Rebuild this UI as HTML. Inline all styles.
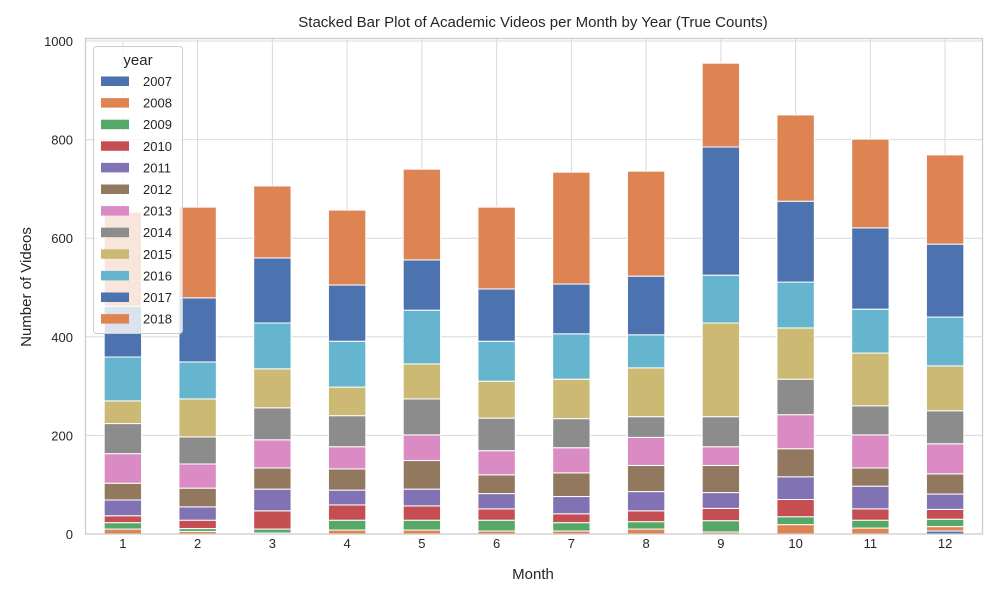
<!DOCTYPE html>
<html><head><meta charset="utf-8">
<style>
html,body{margin:0;padding:0;background:#fff;}
svg text{font-family:"Liberation Sans",Arial,sans-serif;fill:#262626;}
</style></head>
<body>
<svg id="chart" width="1000" height="600" xmlns="http://www.w3.org/2000/svg">
<rect x="0" y="0" width="1000" height="600" fill="#fff"/>
<text x="533" y="27" font-size="15" text-anchor="middle">Stacked Bar Plot of Academic Videos per Month by Year (True Counts)</text>
<text x="533" y="579" font-size="15" text-anchor="middle">Month</text>
<text x="31" y="287" font-size="15" text-anchor="middle" transform="rotate(-90 31 287)">Number of Videos</text>
<g id="grid"></g><g id="bars"></g><g id="ticks"></g>
<rect x="85.5" y="38.5" width="897" height="495.5" fill="none" stroke="#cccccc" stroke-width="1.3"/>
<g id="legend"></g>
</svg>
<script>
const months = ["1","2","3","4","5","6","7","8","9","10","11","12"];
const years = ["2007","2008","2009","2010","2011","2012","2013","2014","2015","2016","2017","2018"];
const yTicks = [0,200,400,600,800,1000];
const colors = ["#4c72b0","#dd8452","#55a868","#c44e52","#8172b3","#937860","#da8bc3","#8c8c8c","#ccb974","#64b5cd","#4c72b0","#dd8452"];
const v2007 = [0,0,0,0,0,0,0,0,0,0,0,6];
const v2008 = [10,5,2,8,8,6,6,10,4,19,12,9];
const v2009 = [13,6,8,20,20,22,17,15,23,16,16,15];
const v2010 = [14,17,37,31,29,23,18,22,25,35,23,20];
const v2011 = [32,27,44,30,34,31,35,39,32,46,46,31];
const v2012 = [34,38,43,43,58,38,48,53,55,57,37,41];
const v2013 = [60,49,57,45,52,49,51,57,38,69,67,61];
const v2014 = [61,55,65,63,73,66,59,42,61,72,59,67];
const v2015 = [46,77,79,58,71,75,80,99,190,104,107,91];
const v2016 = [89,75,93,93,109,81,92,67,97,93,89,99];
const v2017 = [103,130,132,114,102,106,101,119,260,164,165,148];
const v2018 = [191,184,146,152,184,166,227,213,170,175,180,181];
const series = [v2007,v2008,v2009,v2010,v2011,v2012,v2013,v2014,v2015,v2016,v2017,v2018];

const NS="http://www.w3.org/2000/svg";
const X0=85.5, X1=982.5, Y0=534, YPX=0.493;
const step=(X1-X0)/months.length;
const xC=i=>X0+(i+0.5)*step;
const yS=v=>Y0-v*YPX;
function mk(tag,attrs,parent){const e=document.createElementNS(NS,tag);for(const k in attrs)e.setAttribute(k,attrs[k]);parent.appendChild(e);return e;}
const grid=document.getElementById('grid'), bars=document.getElementById('bars'), ticks=document.getElementById('ticks'), legend=document.getElementById('legend');
yTicks.forEach(t=>{
  const l=mk('line',{x1:X0,x2:X1,y1:yS(t),y2:yS(t),stroke:'#d9d9d9','stroke-width':1},grid);
  
  
  const tx=mk('text',{x:73,y:yS(t)+5,'font-size':13,'text-anchor':'end'},ticks);
  tx.textContent=t;
  
  
});
months.forEach((m,i)=>{
  const l=mk('line',{x1:xC(i),x2:xC(i),y1:38.5,y2:Y0,stroke:'#d9d9d9','stroke-width':1},grid);
  
  
  const tx=mk('text',{x:xC(i),y:548,'font-size':13,'text-anchor':'middle'},ticks);
  tx.textContent=m;
  
  
});
const bw=step*0.5;
months.forEach((m,i)=>{
  let cum=0;
  series.forEach((s,k)=>{
    const v=s[i];
    if(v>0){
      const r=mk('rect',{x:xC(i)-bw/2,y:yS(cum+v),width:bw,height:v*YPX,fill:colors[k],stroke:'#fff','stroke-width':1},bars);
      
      
    }
    cum+=v;
  });
});
const lb=mk('rect',{x:93.5,y:46.5,width:89,height:287,rx:3,fill:'#fff','fill-opacity':0.8,stroke:'#cccccc'},legend);


const lt=mk('text',{x:138,y:65,'font-size':15,'text-anchor':'middle'},legend);
lt.textContent='year';


years.forEach((y,k)=>{
  const cy=81+k*21.6;
  const p=mk('rect',{x:101,y:cy-4.5,width:28,height:9.5,fill:colors[k]},legend);
  
  
  const t=mk('text',{x:143,y:cy+5,'font-size':13},legend);
  t.textContent=y;
  
  
});
</script>
</body></html>
